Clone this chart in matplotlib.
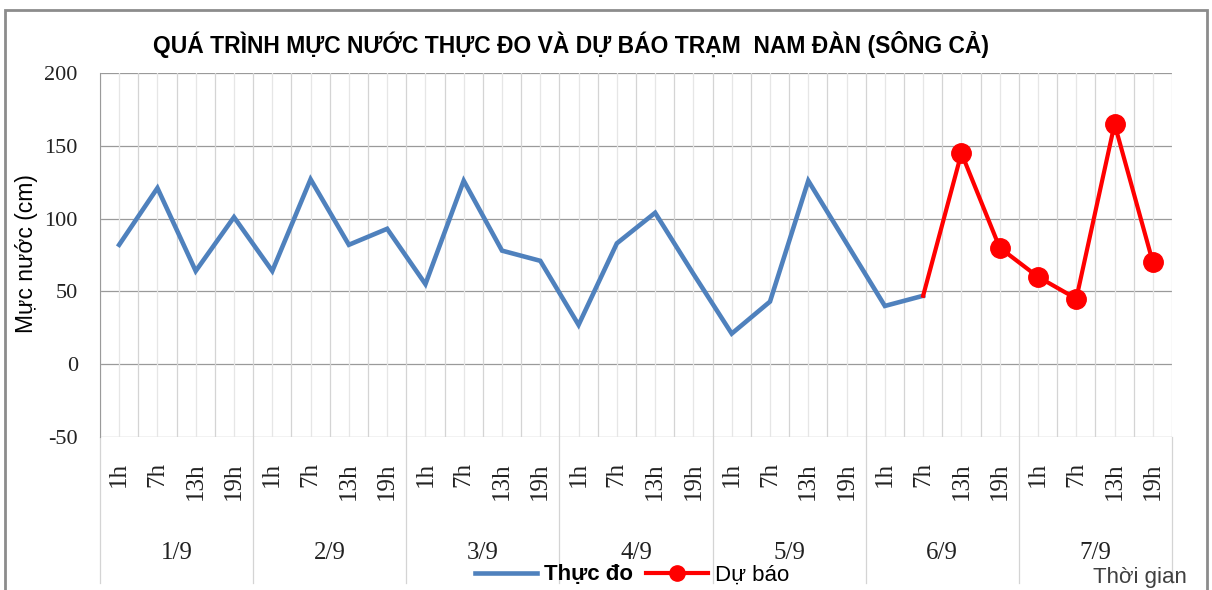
import numpy as np
import matplotlib
matplotlib.use("Agg")
import matplotlib.pyplot as plt
from matplotlib.lines import Line2D
from matplotlib.patches import Rectangle

# data
days = ["1/9", "2/9", "3/9", "4/9", "5/9", "6/9", "7/9"]
hours = ["1h", "7h", "13h", "19h"]
thuc_do = [82, 121, 64, 101, 64, 127, 82, 93, 55, 126, 78, 71,
           27, 83, 104, 62, 21, 43, 126, 83, 40, 47]
du_bao = [47, 145, 80, 60, 45, 165, 70]

n = len(days) * len(hours)
x = np.arange(n)
x_obs = x[:len(thuc_do)]
x_fc = x[len(thuc_do) - 1:len(thuc_do) - 1 + len(du_bao)]

sans = ["Liberation Sans", "DejaVu Sans"]
serif = ["Liberation Serif", "DejaVu Serif"]
plt.rcParams['font.family'] = sans

W, H = 1212, 590
fig = plt.figure(figsize=(W / 100, H / 100), dpi=100)
ax = fig.add_axes([100 / W, 1 - 437 / H, (1172 - 100) / W, (437 - 73) / H])

# outer chart border
fig.patches.append(Rectangle((5 / W, -0.02), 1202 / W, 1 - 10 / H + 0.02,
                             transform=fig.transFigure, fill=False,
                             edgecolor="#8c8c8c", lw=2))

ax.set_xlim(-0.5, n - 0.5)
ax.set_ylim(-50, 200)
ax.set_yticks(np.arange(-50, 201, 50))
ax.set_yticklabels([str(v) for v in range(-50, 201, 50)],
                   family=serif, fontsize=16, color="#222222")
ax.tick_params(axis="y", length=0, pad=16)
ax.set_xticks([])

# gridlines
for v in range(-50, 201, 50):
    ax.axhline(v, color="#9a9a9a", lw=0.9, zorder=1)
for k in range(2 * n + 1):
    xv = -0.5 + k * 0.5
    c = "#d4d4d4" if k % 2 == 0 else "#e6e6e6"
    ax.axvline(xv, color=c, lw=0.9, zorder=1)

for s in ["top", "bottom", "right"]:
    ax.spines[s].set_visible(False)
ax.spines["left"].set_color("#9a9a9a")

ax.plot(x_obs, thuc_do, color="#4F81BD", lw=3.3, solid_joinstyle="miter",
        zorder=3, label="Thực đo")
ax.plot(x_fc, du_bao, color="#FF0000", lw=3, marker="o", markersize=14,
        markevery=list(range(1, len(du_bao))), zorder=4, label="Dự báo")

# category axis (hours and days)
trans = ax.get_xaxis_transform()
for i in range(n):
    ax.text(i, -25 / 364, hours[i % 4], transform=trans, rotation=90,
            ha="center", va="top", family=serif, fontsize=18,
            color="#222222")
for d in range(len(days) + 1):
    xb = -0.5 + 4 * d
    ax.plot([xb, xb], [0, -146 / 364], transform=trans, color="#d4d4d4",
            lw=0.9, clip_on=False)
for d, lab in enumerate(days):
    ax.text(1.5 + 4 * d, -116 / 364, lab, transform=trans, ha="center",
            va="center", family=serif, fontsize=18, color="#222222")

ax.set_ylabel("Mực nước (cm)", fontsize=16.5, labelpad=0)
ax.yaxis.set_label_coords(-62 / 1072, (437 - 254) / 364)

fig.text(571 / W, 1 - 45 / H,
         "QUÁ TRÌNH MỰC NƯỚC THỰC ĐO VÀ DỰ BÁO TRẠM  NAM ĐÀN (SÔNG CẢ)",
         ha="center", va="center", fontsize=16.5, fontweight="bold")

handles = [Line2D([], [], color="#4F81BD", lw=3.3),
           Line2D([], [], color="#FF0000", lw=3, marker="o", markersize=11)]
leg = fig.legend(handles, ["Thực đo", "Dự báo"], loc="center",
                 bbox_to_anchor=(632 / W, 1 - 575 / H), ncol=2, frameon=False,
                 fontsize=16, handlelength=2.8, handletextpad=0.3,
                 columnspacing=0.6)
leg.get_texts()[0].set_fontweight("bold")

fig.text(1140 / W, 1 - 577 / H, "Thời gian", ha="center", va="center",
         fontsize=16, color="#404040")

fig.savefig("out.png", dpi=100)
